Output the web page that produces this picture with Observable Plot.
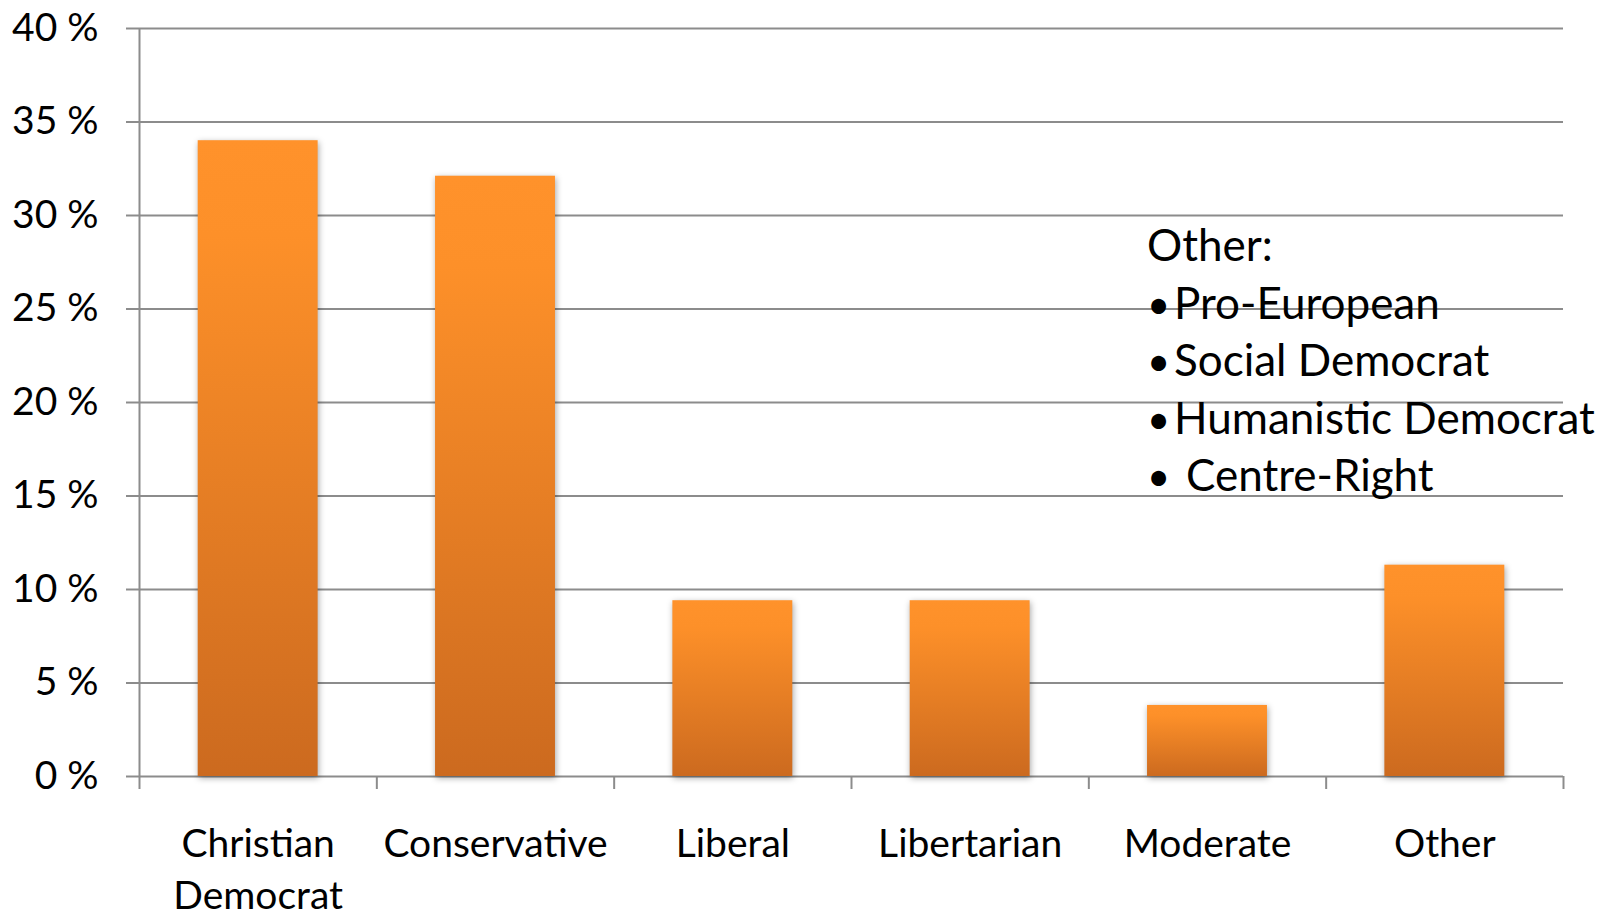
<!DOCTYPE html>
<html><head><meta charset="utf-8">
<script src="https://cdn.jsdelivr.net/npm/d3@7"></script>
<script src="https://cdn.jsdelivr.net/npm/@observablehq/plot@0.6"></script>
<style>
html,body{margin:0;padding:0;background:#fff;overflow:hidden;}
#wrap{position:relative;width:1601px;height:912px;}
#note{position:absolute;left:1147px;top:216px;font-family:Lato,sans-serif;font-size:44px;line-height:57.5px;color:#000;white-space:pre;}
#note > div{height:57.5px;}
#note .b{display:inline-block;font-size:40px;line-height:0;vertical-align:baseline;}
</style></head><body>
<div id="wrap"><div id="chart"></div><div id="note"></div></div>
<script>
const categories = ["Christian\nDemocrat","Conservative","Liberal","Libertarian","Moderate","Other"];
const shares = [34.0, 32.1, 9.4, 9.4, 3.8, 11.3];
const yTicks = [0,5,10,15,20,25,30,35,40];
const noteLines = ["Other:", "• Pro-European", "• Social Democrat", "• Humanistic Democrat", "•  Centre-Right"];

const data = categories.map((c,i)=>({category:c, index:i, share:shares[i]}));
const grid = "#8c8c8c";
const chart = Plot.plot({
  width:1601, height:912,
  marginLeft:139, marginRight:38, marginTop:28, marginBottom:136,
  style:{fontFamily:"Lato, sans-serif", background:"#fff", overflow:"visible", color:"#000"},
  x:{domain:[0,categories.length], axis:null},
  y:{domain:[0,40], axis:null},
  marks:[
    Plot.gridY(yTicks, {stroke:grid, strokeOpacity:1, strokeWidth:2}),
    Plot.axisY(yTicks, {tickSize:13, tickPadding:28, tickFormat:d=>d+" %", stroke:grid, strokeWidth:2, fill:"#000", fontSize:39, label:null}),
    Plot.ruleX([0], {stroke:grid, strokeWidth:2}),
    Plot.axisX(d3.range(categories.length+1), {tickSize:13, tickFormat:()=>"", stroke:grid, strokeWidth:2, label:null}),
    Plot.rectY(data, {x1:"index", x2:d=>d.index+1, y:"share", insetLeft:58.7, insetRight:58.7, fill:"url(#barGrad)", imageFilter:"drop-shadow(1.5px 2px 3px rgba(0,0,0,0.35))"}),
    Plot.text(data, {x:d=>d.index+0.5, frameAnchor:"bottom", text:"category", lineAnchor:"top", lineHeight:1.33, dy:44, fontSize:39, fill:"#000"})
  ]
});
d3.select(chart).insert("defs", ":first-child").html(
  `<linearGradient id="barGrad" x1="0" y1="0" x2="0" y2="1">
     <stop offset="0" stop-color="#ff922b"/>
     <stop offset="0.15" stop-color="#fd9029"/>
     <stop offset="1" stop-color="#cc6a1f"/>
   </linearGradient>`);
document.getElementById("chart").appendChild(chart);

const note = d3.select("#note");
noteLines.forEach(line => {
  const row = note.append("div");
  const m = line.match(/^(•)(\s+)(.*)$/);
  if (m) {
    row.append("span").attr("class","b").style("width", (27 + 12*(m[2].length-1)) + "px").text(m[1]);
    row.append("span").text(m[3]);
  } else {
    row.text(line);
  }
});
</script>
</body></html>
